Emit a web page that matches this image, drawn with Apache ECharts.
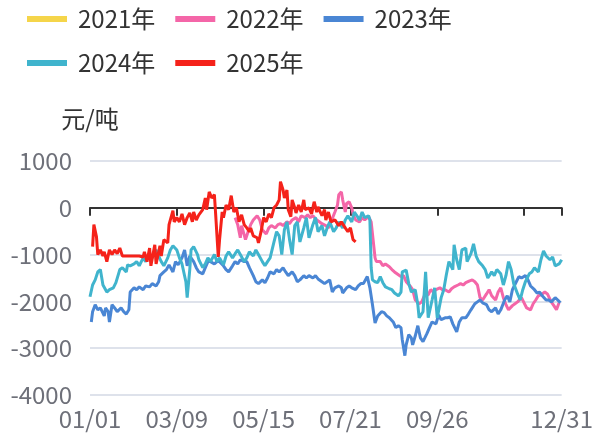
<!DOCTYPE html>
<html>
<head>
<meta charset="utf-8">
<script src="https://cdn.jsdelivr.net/npm/echarts@6/dist/echarts.min.js"></script>
<style>
  html, body { margin: 0; padding: 0; background: #fff; }
  #chart { width: 596px; height: 437px; }
</style>
</head>
<body>
<div id="chart"></div>
<script>
// [day of year (0 = 01/01), 元/吨]
const s2021 = []

const s2022 = [
    [112, -210], [114, -360], [116, -640], [117, -380], [120, -680], [122, -510], [124, -360], [126, -260],
    [129, -170], [131, -260], [133, -470], [136, -560], [138, -430], [140, -380], [143, -430], [145, -360],
    [147, -340], [149, -380], [152, -300], [154, -340], [156, -260], [159, -210], [161, -300], [163, -170],
    [166, -210], [168, -150], [170, -210], [172, -170], [175, -260], [177, -300], [179, -340], [182, -380],
    [184, -430], [186, -300], [189, -90], [191, 60], [192, 280], [194, 340], [195, 170], [197, -90],
    [198, 90], [200, 130], [202, 0], [203, -130], [205, -260], [208, -300], [210, -210], [212, -260],
    [215, -190], [217, -300], [218, -340], [220, -1070], [221, -1150], [224, -1150], [226, -1240], [228, -1200],
    [231, -1260], [233, -1320], [235, -1370], [238, -1430], [240, -1470], [242, -1450], [244, -1580], [247, -1670],
    [249, -1750], [251, -1970], [254, -2050], [256, -2010], [258, -1880], [261, -1860], [263, -1750], [265, -1800],
    [267, -1750], [270, -1710], [272, -1750], [274, -1750], [277, -1800], [279, -1730], [281, -1690], [284, -1650],
    [286, -1620], [288, -1650], [290, -1600], [293, -1560], [295, -1540], [297, -1580], [299, -1650], [301, -1920],
    [303, -1970], [306, -1840], [308, -1750], [310, -1880], [313, -1970], [315, -1800], [317, -1710], [319, -1920],
    [321, -2070], [323, -2180], [326, -2090], [328, -2050], [330, -2010], [333, -1920], [335, -2030], [337, -2140],
    [340, -2180], [342, -2050], [344, -1970], [346, -1880], [349, -1840], [351, -1800], [353, -1840], [356, -2010],
    [358, -2090], [360, -2180], [362, -2030]
]

const s2023 = [
    [1, -2440], [2, -2220], [4, -2070], [6, -2180], [8, -2140], [11, -2310], [12, -2140], [14, -2220],
    [15, -2440], [17, -2070], [19, -2140], [21, -2220], [24, -2140], [26, -2220], [28, -2270], [30, -2180],
    [31, -1800], [34, -1710], [36, -1750], [38, -1690], [41, -1750], [43, -1670], [46, -1690], [48, -1620],
    [51, -1670], [53, -1580], [54, -1450], [57, -1370], [59, -1320], [61, -1220], [64, -1370], [66, -1150],
    [68, -1220], [71, -1070], [73, -900], [75, -1240], [77, -1030], [80, -1150], [82, -1280], [84, -1370],
    [87, -1410], [89, -1280], [91, -1150], [93, -1150], [96, -1200], [98, -1150], [100, -1150], [103, -1240],
    [105, -1320], [107, -1370], [110, -1240], [112, -1150], [114, -1200], [116, -1110], [119, -1150], [121, -1150],
    [123, -1280], [126, -1450], [128, -1580], [130, -1620], [133, -1540], [135, -1600], [137, -1500], [139, -1370],
    [142, -1410], [144, -1320], [146, -1370], [149, -1280], [151, -1370], [153, -1450], [156, -1370], [158, -1450],
    [160, -1580], [162, -1540], [165, -1450], [167, -1500], [169, -1450], [172, -1500], [174, -1450], [176, -1520],
    [179, -1580], [181, -1620], [183, -1580], [185, -1540], [187, -1800], [189, -1710], [192, -1670], [194, -1710],
    [195, -1820], [198, -1710], [200, -1670], [202, -1710], [205, -1750], [207, -1670], [209, -1620], [211, -1620],
    [214, -1470], [216, -1710], [218, -2070], [220, -2460], [222, -2310], [225, -2220], [227, -2240], [229, -2310],
    [231, -2350], [234, -2440], [236, -2560], [238, -2520], [240, -2560], [241, -2820], [243, -3160], [244, -2930],
    [246, -2710], [248, -2780], [249, -2930], [251, -2740], [253, -2520], [255, -2780], [257, -2860], [260, -2690],
    [262, -2560], [264, -2440], [267, -2480], [269, -2290], [271, -2390], [274, -2350], [276, -2350], [278, -2330],
    [280, -2480], [283, -2650], [285, -2440], [287, -2350], [290, -2350], [292, -2270], [294, -2180], [297, -2050],
    [299, -2010], [301, -1970], [303, -2030], [306, -2070], [308, -2180], [310, -2220], [313, -2140], [315, -2270],
    [317, -2180], [320, -1970], [322, -1880], [324, -2010], [326, -1750], [329, -1580], [331, -1470], [333, -1500],
    [336, -1450], [338, -1540], [340, -1670], [343, -1750], [345, -1820], [347, -1800], [349, -1880], [352, -1970],
    [354, -1970], [356, -2010], [359, -1920], [361, -1970], [363, -2030]
]

const s2024 = [
    [0, -1900], [2, -1650], [4, -1540], [6, -1370], [8, -1320], [10, -1650], [13, -1800], [15, -1750],
    [18, -1710], [20, -1600], [23, -1320], [25, -1280], [28, -1370], [29, -1220], [31, -1240], [34, -1200],
    [36, -1150], [38, -1240], [41, -1070], [43, -1150], [46, -1000], [48, -1070], [51, -900], [53, -1030],
    [55, -1150], [57, -1240], [60, -1070], [62, -900], [64, -810], [67, -900], [69, -1070], [71, -1200],
    [74, -1580], [75, -1920], [77, -1320], [78, -900], [80, -830], [83, -1000], [84, -1110], [87, -1280],
    [89, -1200], [91, -1070], [93, -1150], [96, -1000], [98, -1150], [100, -1070], [103, -1220], [105, -1030],
    [107, -940], [110, -1070], [112, -980], [114, -900], [116, -1000], [119, -1150], [121, -1070], [123, -940],
    [126, -1030], [128, -900], [130, -1000], [133, -1150], [135, -1240], [137, -1150], [139, -1070], [142, -730],
    [144, -510], [146, -600], [148, -1000], [150, -470], [152, -300], [154, -680], [156, -1000], [158, -380],
    [160, -300], [162, -730], [165, -430], [167, -210], [169, -640], [172, -360], [174, -210], [176, -510],
    [179, -380], [181, -600], [183, -430], [185, -300], [188, -510], [190, -430], [192, -300], [195, -430],
    [197, -260], [199, -170], [202, -300], [204, -90], [206, -170], [208, -260], [210, -90], [212, -210],
    [215, -170], [216, -260], [217, -1280], [218, -1540], [220, -1580], [222, -1600], [224, -1470], [226, -1600],
    [228, -1690], [231, -1730], [233, -1750], [235, -1820], [238, -1880], [240, -1800], [241, -1370], [244, -1330],
    [246, -1620], [248, -1800], [251, -1750], [253, -2070], [254, -2350], [257, -2220], [259, -1370], [261, -2350],
    [264, -1970], [266, -1710], [268, -2350], [271, -1920], [273, -1750], [275, -1430], [277, -1150], [280, -1320],
    [281, -790], [283, -1110], [285, -1320], [287, -900], [290, -860], [291, -1150], [294, -980], [296, -770],
    [298, -1030], [300, -1150], [303, -1240], [305, -1320], [307, -1500], [310, -1370], [312, -1450], [314, -1320],
    [317, -1410], [319, -1650], [321, -1450], [323, -1150], [325, -1320], [327, -1620], [330, -1840], [332, -1970],
    [334, -1750], [336, -1580], [339, -1410], [341, -1370], [343, -1280], [346, -1370], [348, -1110], [350, -920],
    [352, -1030], [355, -1110], [357, -1050], [359, -1240], [362, -1200], [364, -1110]
]

const s2025 = [
    [2, -830], [3, -360], [5, -620], [6, -1000], [8, -900], [10, -1030], [11, -940], [13, -1150],
    [15, -900], [17, -1000], [19, -900], [21, -980], [23, -860], [25, -1030], [27, -1030], [31, -1030],
    [34, -1030], [38, -1030], [41, -1050], [42, -940], [44, -1150], [46, -860], [47, -1240], [50, -790],
    [51, -1200], [54, -810], [55, -1030], [57, -680], [60, -750], [61, -360], [64, -60], [65, -300],
    [67, -210], [69, -300], [71, -130], [73, -360], [75, -210], [77, -110], [79, -300], [80, -90],
    [82, -260], [84, -150], [87, -40], [89, 210], [90, -40], [92, 340], [93, 380], [94, 210],
    [96, 280], [97, -150], [99, -1050], [100, -680], [102, -90], [103, -210], [105, 60], [107, -40],
    [109, 260], [111, -90], [113, 0], [115, -300], [117, -150], [119, -360], [121, -430], [123, -510],
    [124, -430], [126, -600], [129, -640], [130, -750], [132, -510], [134, -210], [136, -300], [138, -130],
    [140, -210], [142, 0], [144, 60], [146, 170], [147, 560], [149, 380], [150, 210], [152, 380],
    [153, -40], [155, -190], [156, 170], [158, 0], [159, -110], [161, 60], [163, -90], [165, 170],
    [166, -40], [169, 0], [171, -130], [173, 130], [175, -90], [176, 20], [179, -170], [181, -40],
    [182, -260], [184, -90], [186, -300], [189, -260], [192, -380], [194, -300], [197, -430], [199, -510],
    [201, -430], [203, -680], [205, -730]
]

const seriesNames = ['2021年', '2022年', '2023年', '2024年', '2025年']
const seriesData = [s2021, s2022, s2023, s2024, s2025]
const colors = ['#f5d54a', '#f466a8', '#4a86d4', '#40b4cd', '#f5221a']
const yTicks = [-4000, -3000, -2000, -1000, 0, 1000]

// 365 day labels, MM/DD
const days = []
for (let d = new Date(2023, 0, 1); d.getFullYear() === 2023; d.setDate(d.getDate() + 1)) {
    days.push(String(d.getMonth() + 1).padStart(2, '0') + '/' + String(d.getDate()).padStart(2, '0'))
}
const last = days.length - 1

const font = '"Noto Sans CJK SC", "Noto Sans", sans-serif'

const chart = echarts.init(document.getElementById('chart'))

chart.setOption({
    animation: false,
    color: colors,
    textStyle: { fontFamily: font },
    legend: {
        left: 22,
        top: 2,
        icon: 'rect',
        itemWidth: 40,
        itemHeight: 6,
        itemGap: 20,
        textStyle: { fontSize: 24, color: '#333', padding: [0, 0, 0, 6] },
        data: seriesNames
    },
    grid: { left: 90, right: 31, top: 161, bottom: 42 },
    xAxis: {
        type: 'category',
        boundaryGap: false,
        data: days,
        axisLine: { lineStyle: { color: '#333', width: 2 } },
        axisTick: {
            length: 8,
            lineStyle: { color: '#333', width: 2 },
            interval: (i) => i % 67 === 0 || i === last
        },
        axisLabel: {
            fontSize: 24,
            color: '#6e7079',
            margin: 12,
            interval: (i) => (i % 67 === 0 && i !== 335) || i === last
        }
    },
    yAxis: {
        type: 'value',
        name: '元/吨',
        nameGap: 30,
        nameTextStyle: { fontSize: 24, color: '#333' },
        min: yTicks[0],
        max: yTicks[yTicks.length - 1],
        interval: 1000,
        axisLabel: { fontSize: 24, color: '#6e7079', margin: 18, formatter: (v) => String(v) },
        splitLine: { lineStyle: { color: '#d3d8e4', width: 1.5 } }
    },
    series: seriesNames.map((name, i) => ({
        name,
        type: 'line',
        data: seriesData[i],
        showSymbol: false,
        symbol: 'none',
        lineStyle: { width: 3 }
    }))
})
</script>
</body>
</html>
